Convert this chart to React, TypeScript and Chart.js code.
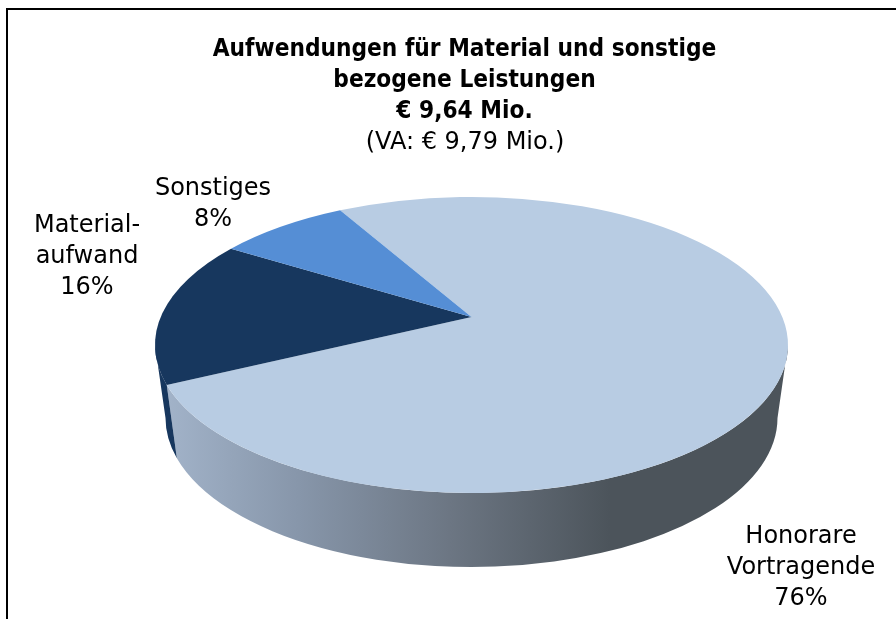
import React, { useEffect, useRef } from "react";
import { Chart, registerables } from "chart.js";

Chart.register(...registerables);

const titleLines = [
  "Aufwendungen für Material und sonstige",
  "bezogene Leistungen",
  "€ 9,64 Mio.",
];
const subtitleLine = "(VA: € 9,79 Mio.)";
const categories = [
  ["Honorare", "Vortragende"],
  ["Material-", "aufwand"],
  ["Sonstiges"],
];
const shares = [76, 16, 8];
const sliceColors = ["#B8CCE3", "#17375E", "#558ED5"];
const labelAnchors = [
  { x: 801, y: 543 },
  { x: 87, y: 232 },
  { x: 213, y: 195 },
];

const BOLD_FONT = 'bold 24.2px "DejaVu Sans Condensed", "DejaVu Sans", sans-serif';
const TEXT_FONT = '24px "DejaVu Sans", sans-serif';
const TOP = { cx: 471.5, cy: 345, rx: 316.5, ry: 148, apexY: 317 };
const BOTTOM = { cx: 471.5, cy: 418, rx: 306, ry: 149 };
const TAU = Math.PI * 2;

// Perspective: maps an angle on the pie's circle to a parameter on the drawn ellipse.
const p = -(TOP.cy - TOP.apexY) / TOP.ry;
const toEllipseAngle = (phi: number) => {
  const u = Math.cos(phi);
  const v = Math.sin(phi);
  const w = 1 + p * v;
  return Math.atan2((v + p) / w, (Math.sqrt(1 - p * p) * u) / w);
};

const pie3d = {
  id: "pie3d",
  beforeDatasetDraw(chart: any, args: any) {
    const { ctx } = chart;
    const arcs = args.meta.data;
    const colors = chart.data.datasets[0].backgroundColor;
    const grad = ctx.createLinearGradient(165, 0, 610, 0);
    grad.addColorStop(0, "#A2B3C9");
    grad.addColorStop(0.3, "#8796AA");
    grad.addColorStop(0.64, "#6C7683");
    grad.addColorStop(1, "#4C545B");

    arcs.forEach((arc: any, i: number) => {
      let a = toEllipseAngle(arc.startAngle);
      let b = toEllipseAngle(arc.endAngle);
      a = ((a % TAU) + TAU) % TAU;
      b = ((b % TAU) + TAU) % TAU;
      if (b <= a) b += TAU;
      [
        [0, Math.PI],
        [TAU, TAU + Math.PI],
      ].forEach(([lo, hi]) => {
        const s = Math.max(a, lo);
        const e = Math.min(b, hi);
        if (e <= s) return;
        ctx.beginPath();
        ctx.ellipse(TOP.cx, TOP.cy, TOP.rx, TOP.ry, 0, s, e, false);
        ctx.ellipse(BOTTOM.cx, BOTTOM.cy, BOTTOM.rx, BOTTOM.ry, 0, e, s, true);
        ctx.closePath();
        ctx.fillStyle = i === 0 ? grad : colors[i];
        ctx.fill();
      });
    });

    arcs.forEach((arc: any, i: number) => {
      ctx.beginPath();
      ctx.moveTo(TOP.cx, TOP.apexY);
      ctx.ellipse(
        TOP.cx,
        TOP.cy,
        TOP.rx,
        TOP.ry,
        0,
        toEllipseAngle(arc.startAngle),
        toEllipseAngle(arc.endAngle),
        false
      );
      ctx.closePath();
      ctx.fillStyle = colors[i];
      ctx.fill();
    });
    return false;
  },
  afterDraw(chart: any) {
    const { ctx } = chart;
    ctx.save();
    ctx.fillStyle = "#000";
    ctx.textAlign = "center";
    ctx.textBaseline = "alphabetic";
    ctx.font = BOLD_FONT;
    titleLines.forEach((t, i) => ctx.fillText(t, 464.5, 56 + i * 31));
    ctx.font = TEXT_FONT;
    ctx.fillText(subtitleLine, 465, 149);
    chart.data.labels.forEach((lines: string[], i: number) => {
      const all = [...lines, `${chart.data.datasets[0].data[i]}%`];
      all.forEach((t, j) =>
        ctx.fillText(t, labelAnchors[i].x, labelAnchors[i].y + j * 31)
      );
    });
    ctx.restore();
  },
};

export default function App() {
  const ref = useRef<HTMLCanvasElement>(null);
  useEffect(() => {
    const chart = new Chart(ref.current!, {
      type: "pie",
      data: {
        labels: categories as any,
        datasets: [{ data: shares, backgroundColor: sliceColors, borderWidth: 0 }],
      },
      options: {
        responsive: false,
        animation: false,
        rotation: -29.5,
        plugins: { legend: { display: false }, tooltip: { enabled: false } },
      },
      plugins: [pie3d],
    } as any);
    return () => chart.destroy();
  }, []);
  return (
    <div
      style={{
        position: "absolute",
        left: 0,
        top: 0,
        width: 896,
        height: 619,
        overflow: "hidden",
        background: "#fff",
      }}
    >
      <canvas ref={ref} width={896} height={619} style={{ display: "block" }} />
      <div
        style={{
          position: "absolute",
          left: 6,
          top: 8,
          right: 0,
          bottom: 0,
          borderTop: "2px solid #000",
          borderLeft: "2px solid #000",
        }}
      />
    </div>
  );
}
